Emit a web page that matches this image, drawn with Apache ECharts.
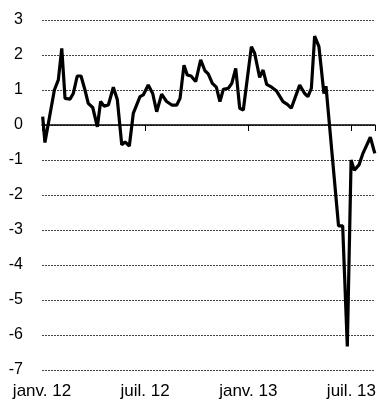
<!DOCTYPE html>
<html>
<head>
<meta charset="utf-8">
<script src="https://cdn.jsdelivr.net/npm/echarts@6/dist/echarts.min.js"></script>
<style>html,body{margin:0;padding:0;background:#fff}#c{width:379px;height:403px}</style>
</head>
<body>
<div id="c"></div>
<script>
// x positions in months since janv. 2012
var months = [0.04,0.17,0.72,0.95,1.15,1.34,1.63,1.82,2.05,2.27,2.50,2.69,2.95,3.22,3.41,3.61,3.86,4.15,4.38,4.64,4.83,5.08,5.31,5.70,5.89,6.18,6.44,6.67,6.96,7.25,7.55,7.84,8.03,8.26,8.45,8.67,8.94,9.23,9.48,9.67,9.91,10.14,10.35,10.55,10.84,11.04,11.27,11.50,11.71,12.18,12.37,12.66,12.86,13.07,13.36,13.63,14.02,14.27,14.50,14.99,15.28,15.47,15.67,15.86,16.11,16.40,16.52,17.25,17.49,17.76,17.98,18.17,18.44,18.67,19.10,19.36];
var values = [0.24,-0.5,1.0,1.29,2.19,0.76,0.74,0.9,1.4,1.4,1.0,0.62,0.5,-0.05,0.67,0.54,0.57,1.08,0.73,-0.57,-0.48,-0.6,0.33,0.81,0.86,1.14,0.9,0.38,0.88,0.67,0.57,0.57,0.76,1.71,1.43,1.4,1.24,1.86,1.55,1.46,1.19,1.08,0.67,1.02,1.05,1.19,1.62,0.48,0.43,2.24,2.05,1.36,1.57,1.16,1.08,0.98,0.67,0.59,0.48,1.14,0.9,0.81,1.05,2.54,2.24,0.9,1.11,-2.88,-2.88,-6.33,-1.0,-1.29,-1.14,-0.81,-0.35,-0.81];
var tickLabels = {0:'janv. 12', 6:'juil. 12', 12:'janv. 13', 18:'juil. 13'};
var yTicks = [-7,-6,-5,-4,-3,-2,-1,0,1,2,3];

var data = months.map(function(m,i){return [m, values[i]];});
var chart = echarts.init(document.getElementById('c'), null, {renderer:'canvas'});
chart.setOption({
  animation:false,
  grid:{left:42,right:4,top:20,bottom:33},
  xAxis:[{
    type:'value', min:0, max:19.37, interval:6, position:'bottom',
    axisLine:{show:false, onZero:false}, axisTick:{show:false}, splitLine:{show:false},
    axisLabel:{show:true, margin:13, fontSize:17, color:'#000', fontFamily:'Liberation Sans',
      showMaxLabel:false,
      formatter:function(v){return tickLabels[v]||'';}}
  },{
    type:'value', min:0, max:19.37, interval:6, position:'bottom',
    axisLine:{show:true, onZero:true, lineStyle:{color:'#000', width:1.5}},
    axisTick:{show:true, length:6, lineStyle:{color:'#000', width:1}},
    axisLabel:{show:false}, splitLine:{show:false}
  }],
  yAxis:{
    type:'value', min:yTicks[0], max:yTicks[yTicks.length-1], interval:1,
    axisLine:{show:false}, axisTick:{show:false},
    axisLabel:{margin:19, fontSize:16, color:'#000', fontFamily:'Liberation Sans'},
    splitLine:{show:true, lineStyle:{color:'#444', width:1, type:[2,1]}}
  },
  series:[{
    type:'line', data:data, xAxisIndex:0, showSymbol:false, symbol:'none',
    lineStyle:{color:'#000', width:3.2}, clip:false
  }]
});
</script>
</body>
</html>
